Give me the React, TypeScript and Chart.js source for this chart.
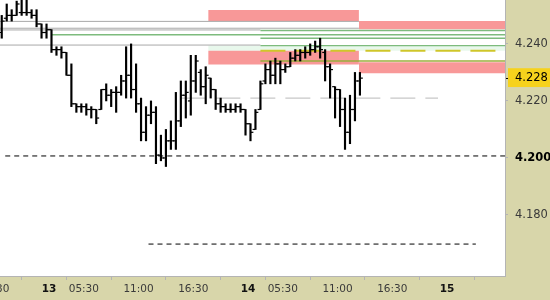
import React, { useEffect, useRef } from 'react';
import { Chart, registerables } from 'chart.js';

Chart.register(...registerables);

// Time axis: hours since 02:00 on the 13th; the session runs 02:00–22:00 (20 h per day).
const firstBarHour = -4.75;
const barStepHours = 0.5;

// 30-minute OHLC bars
const barHigh = [
  4.250, 4.254, 4.252, 4.255, 4.256, 4.257, 4.252, 4.252, 4.247, 4.247,
  4.245, 4.239, 4.239, 4.237, 4.233, 4.219, 4.219, 4.219, 4.218, 4.217,
  4.224, 4.226, 4.224, 4.225, 4.229, 4.239, 4.240, 4.233, 4.221, 4.218,
  4.220, 4.218, 4.208, 4.210, 4.213, 4.223, 4.227, 4.227, 4.236, 4.236,
  4.231, 4.232, 4.228, 4.224, 4.221, 4.219, 4.219, 4.219, 4.219, 4.217,
  4.212, 4.217, 4.227, 4.233, 4.234, 4.235, 4.234, 4.233, 4.237, 4.238,
  4.238, 4.239, 4.240, 4.241, 4.242, 4.238, 4.233, 4.225, 4.224, 4.221,
  4.222, 4.230, 4.230,
];
const barLow = [
  4.242, 4.248, 4.248, 4.250, 4.250, 4.250, 4.249, 4.246, 4.242, 4.242,
  4.237, 4.236, 4.235, 4.229, 4.218, 4.216, 4.216, 4.215, 4.214, 4.212,
  4.217, 4.220, 4.218, 4.216, 4.222, 4.221, 4.221, 4.216, 4.206, 4.206,
  4.212, 4.198, 4.199, 4.197, 4.203, 4.203, 4.211, 4.214, 4.215, 4.223,
  4.222, 4.219, 4.221, 4.217, 4.216, 4.216, 4.216, 4.216, 4.216, 4.208,
  4.206, 4.210, 4.217, 4.226, 4.226, 4.226, 4.226, 4.230, 4.232, 4.234,
  4.234, 4.235, 4.236, 4.237, 4.235, 4.227, 4.221, 4.214, 4.211, 4.203,
  4.205, 4.213, 4.222,
];
const barOpen = [
  4.244, 4.249, 4.250, 4.250, 4.251, 4.251, 4.251, 4.250, 4.247, 4.244,
  4.245, 4.238, 4.238, 4.237, 4.229, 4.219, 4.218, 4.218, 4.217, 4.217,
  4.217, 4.224, 4.222, 4.223, 4.223, 4.227, 4.229, 4.224, 4.219, 4.209,
  4.215, 4.216, 4.201, 4.200, 4.206, 4.206, 4.213, 4.222, 4.220, 4.227,
  4.230, 4.225, 4.228, 4.224, 4.219, 4.218, 4.217, 4.217, 4.218, 4.217,
  4.212, 4.210, 4.217, 4.227, 4.231, 4.229, 4.233, 4.231, 4.232, 4.235,
  4.236, 4.237, 4.237, 4.238, 4.239, 4.237, 4.232, 4.225, 4.224, 4.217,
  4.209, 4.217, 4.227,
];
const barClose = [
  4.248, 4.250, 4.250, 4.254, 4.251, 4.251, 4.250, 4.247, 4.244, 4.245,
  4.238, 4.238, 4.237, 4.229, 4.219, 4.218, 4.218, 4.217, 4.217, 4.214,
  4.224, 4.222, 4.223, 4.223, 4.227, 4.229, 4.224, 4.219, 4.209, 4.215,
  4.216, 4.201, 4.200, 4.206, 4.206, 4.213, 4.222, 4.223, 4.227, 4.234,
  4.225, 4.229, 4.224, 4.219, 4.218, 4.217, 4.217, 4.218, 4.217, 4.212,
  4.209, 4.216, 4.226, 4.231, 4.229, 4.233, 4.231, 4.232, 4.235, 4.236,
  4.237, 4.237, 4.238, 4.239, 4.238, 4.232, 4.231, 4.224, 4.217, 4.209,
  4.217, 4.227, 4.228,
];

// Axis ticks
const timeTickHours = [-5.5, 0, 3.5, 9, 14.5, 20, 23.5, 29, 34.5, 40];
const timeTickLabels = ['16:30', '13', '05:30', '11:00', '16:30', '14', '05:30', '11:00', '16:30', '15'];
const dayLabels = ['13', '14', '15'];
const priceTicks = [4.18, 4.2, 4.22, 4.24];
const lastPrice = 4.228;
const keyPrice = 4.2;

// Visible window
const hourMin = -4.925;
const hourMax = 45.83;
const priceMin = 4.1586;
const priceMax = 4.2554;

// Zones: [fromHour, toHour, upperPrice, lowerPrice]
const resistanceZones = [
  [16, 31.15, 4.2519, 4.2480],
  [31.15, 46, 4.2480, 4.2451],
  [16, 31.15, 4.2376, 4.2328],
  [31.15, 46, 4.2336, 4.2297],
];
const neutralBands = [[16, 46, 4.2394, 4.2376]];

// Levels: [fromHour, toHour, price]
const grayLevels = [
  [-5, 31.15, 4.2479],
  [-5, 31.15, 4.2455],
  [-5, 21.25, 4.2449],
  [-5, 21.25, 4.2396],
];
const greenLevels = [
  [21.25, 46, 4.2447],
  [0.25, 46, 4.2432],
  [21.25, 46, 4.2420],
  [21.25, 46, 4.2394],
];
const oliveLevels = [[21.25, 46, 4.2340]];
const yellowLevels = [[21.25, 46, 4.2376]];
const pivotLevels = [[13.2, 39.1, 4.2210]];
const supportLevels = [
  [-4.4, 46, 4.2007],
  [10, 42.9, 4.1698],
];

const FONT = '"DejaVu Sans", Verdana, sans-serif';

const barHours = barHigh.map((_, i) => firstBarHour + i * barStepHours);

function levelSet(levels: number[][], style: any, order: number) {
  return levels.map((l) => ({
    type: 'line',
    data: [
      { x: l[0], y: l[2] },
      { x: l[1], y: l[2] },
    ],
    pointRadius: 0,
    pointHoverRadius: 0,
    fill: false,
    order,
    ...style,
  }));
}

function bandSet(bands: number[][], color: string, order: number) {
  return bands.map((b) => ({
    type: 'line',
    data: [
      { x: b[0], y: b[2] },
      { x: b[1], y: b[2] },
    ],
    borderColor: 'transparent',
    borderWidth: 0,
    pointRadius: 0,
    pointHoverRadius: 0,
    fill: { value: b[3] },
    backgroundColor: color,
    order,
  }));
}

const panelBackground = {
  id: 'panelBackground',
  beforeDraw(chart: any) {
    const { ctx, chartArea: a, width, height } = chart;
    ctx.save();
    ctx.fillStyle = '#d8d6aa';
    ctx.fillRect(0, 0, width, height);
    ctx.fillStyle = '#ffffff';
    ctx.fillRect(a.left, a.top, a.right - a.left, a.bottom - a.top);
    ctx.restore();
  },
};

export default function App() {
  const canvasRef = useRef<HTMLCanvasElement | null>(null);

  useEffect(() => {
    if (!canvasRef.current) return;

    const tickStyle = {
      type: 'line',
      showLine: false,
      pointStyle: 'line',
      pointRadius: 1.4,
      pointHoverRadius: 0,
      pointBorderWidth: 1.2,
      pointBorderColor: '#000000',
      order: 1,
    };

    const datasets: any[] = [
      ...bandSet(resistanceZones, 'rgb(248,152,152)', 20),
      ...bandSet(neutralBands, 'rgb(232,248,236)', 20),
      ...levelSet(grayLevels, { borderColor: '#a8a8a8', borderWidth: 1 }, 12),
      ...levelSet(greenLevels, { borderColor: '#7dbb7d', borderWidth: 1.4 }, 11),
      ...levelSet(oliveLevels, { borderColor: '#9aae3c', borderWidth: 1.5 }, 11),
      ...levelSet(yellowLevels, { borderColor: '#cfc62a', borderWidth: 2, borderDash: [25, 10] }, 10),
      ...levelSet(pivotLevels, { borderColor: '#c8c8c8', borderWidth: 1.2, borderDash: [25, 10] }, 10),
      ...levelSet(supportLevels, { borderColor: '#000000', borderWidth: 1, borderDash: [5, 4] }, 9),
      {
        type: 'bar',
        data: barHours.map((h, i) => ({ x: h, y: [barLow[i], barHigh[i]] })),
        backgroundColor: '#000000',
        borderWidth: 0,
        barThickness: 1.5,
        grouped: false,
        order: 2,
      },
      {
        ...tickStyle,
        data: barHours.map((h, i) => ({ x: h - 0.15, y: barOpen[i] })),
      },
      {
        ...tickStyle,
        data: barHours.map((h, i) => ({ x: h + 0.15, y: barClose[i] })),
      },
    ];

    const chart = new Chart(canvasRef.current, {
      type: 'bar',
      data: { datasets },
      plugins: [panelBackground],
      options: {
        responsive: false,
        animation: false,
        devicePixelRatio: 1,
        events: [],
        layout: { padding: 0, autoPadding: false },
        plugins: { legend: { display: false }, tooltip: { enabled: false } },
        scales: {
          x: {
            type: 'linear',
            min: hourMin,
            max: hourMax,
            offset: false,
            bounds: 'data',
            afterBuildTicks: (scale: any) => {
              scale.ticks = timeTickHours.map((v) => ({ value: v }));
            },
            afterFit: (scale: any) => {
              scale.height = 24;
              scale.paddingLeft = 0;
              scale.paddingRight = 0;
            },
            grid: {
              drawOnChartArea: false,
              drawTicks: true,
              tickLength: 4,
              color: '#b4b4b4',
            },
            border: { display: true, color: '#b4b4b4' },
            ticks: {
              autoSkip: false,
              maxRotation: 0,
              padding: 3,
              callback: (value: any) => timeTickLabels[timeTickHours.indexOf(Number(value))] ?? '',
              font: (ctx: any) => {
                const label = timeTickLabels[timeTickHours.indexOf(ctx.tick?.value)];
                return { family: FONT, size: 10.5, weight: dayLabels.includes(label) ? 'bold' : 'normal' };
              },
              color: (ctx: any) => {
                const label = timeTickLabels[timeTickHours.indexOf(ctx.tick?.value)];
                return dayLabels.includes(label) ? '#111111' : '#3a3a3a';
              },
            },
          },
          y: {
            type: 'linear',
            position: 'right',
            min: priceMin,
            max: priceMax,
            bounds: 'data',
            afterBuildTicks: (scale: any) => {
              scale.ticks = [...priceTicks, lastPrice].map((v) => ({ value: v }));
            },
            afterFit: (scale: any) => {
              scale.width = 45;
              scale.paddingTop = 0;
              scale.paddingBottom = 0;
            },
            grid: {
              drawOnChartArea: false,
              drawTicks: true,
              tickLength: 3,
              color: (ctx: any) => (ctx.tick?.value === lastPrice ? '#000000' : '#b4b4b4'),
            },
            border: { display: true, color: '#b4b4b4' },
            ticks: {
              padding: 7,
              callback: (value: any) => Number(value).toFixed(3),
              font: (ctx: any) => ({
                family: FONT,
                size: 11.5,
                weight: ctx.tick?.value === keyPrice ? 'bold' : 'normal',
              }),
              color: (ctx: any) =>
                ctx.tick?.value === keyPrice || ctx.tick?.value === lastPrice ? '#000000' : '#3a3a3a',
              showLabelBackdrop: (ctx: any) => ctx.tick?.value === lastPrice,
              backdropColor: '#f6d21c',
              backdropPadding: { top: 3, bottom: 2, left: 7, right: 6 },
            },
          },
        },
      } as any,
    } as any);

    return () => chart.destroy();
  }, []);

  return (
    <div style={{ position: 'fixed', left: 0, top: 0, width: 550, height: 300 }}>
      <canvas ref={canvasRef} width={550} height={300} style={{ display: 'block' }} />
    </div>
  );
}
